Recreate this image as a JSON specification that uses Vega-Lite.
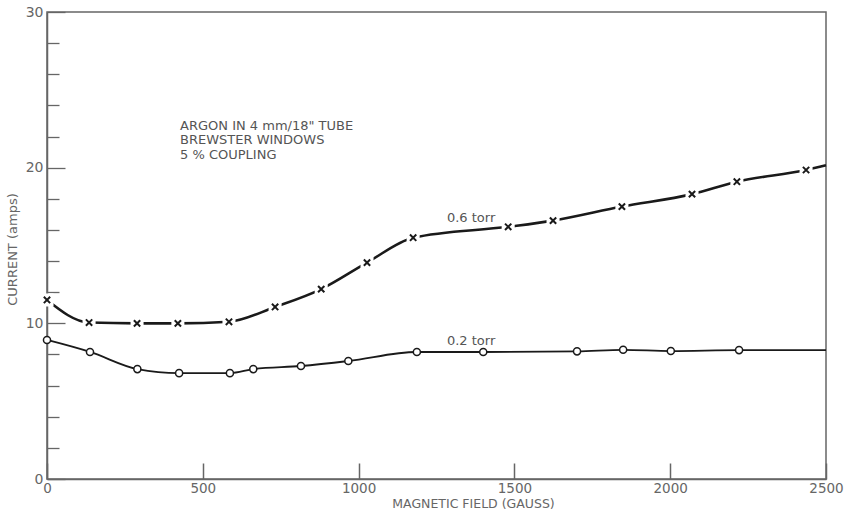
{
  "$schema": "https://vega.github.io/schema/vega-lite/v6.json",
  "width": 779,
  "height": 467,
  "autosize": {"type": "none"},
  "padding": {"left": 47, "top": 12, "right": 23, "bottom": 31},
  "background": "white",
  "config": {"view": {"stroke": "#666", "strokeWidth": 1.5}, "font": "DejaVu Sans"},
  "datasets": {
    "curves": [
      {"series": "0.6 torr", "gauss": 0, "amps": 11.5, "marked": true},
      {"series": "0.6 torr", "gauss": 135, "amps": 10.05, "marked": true},
      {"series": "0.6 torr", "gauss": 289, "amps": 10.0, "marked": true},
      {"series": "0.6 torr", "gauss": 420, "amps": 10.0, "marked": true},
      {"series": "0.6 torr", "gauss": 584, "amps": 10.1, "marked": true},
      {"series": "0.6 torr", "gauss": 732, "amps": 11.05, "marked": true},
      {"series": "0.6 torr", "gauss": 880, "amps": 12.2, "marked": true},
      {"series": "0.6 torr", "gauss": 1027, "amps": 13.9, "marked": true},
      {"series": "0.6 torr", "gauss": 1175, "amps": 15.5, "marked": true},
      {"series": "0.6 torr", "gauss": 1480, "amps": 16.2, "marked": true},
      {"series": "0.6 torr", "gauss": 1624, "amps": 16.6, "marked": true},
      {"series": "0.6 torr", "gauss": 1845, "amps": 17.5, "marked": true},
      {"series": "0.6 torr", "gauss": 2070, "amps": 18.3, "marked": true},
      {"series": "0.6 torr", "gauss": 2214, "amps": 19.1, "marked": true},
      {"series": "0.6 torr", "gauss": 2436, "amps": 19.85, "marked": true},
      {"series": "0.6 torr", "gauss": 2500, "amps": 20.15, "marked": false},
      {"series": "0.2 torr", "gauss": 0, "amps": 8.93, "marked": true},
      {"series": "0.2 torr", "gauss": 138, "amps": 8.16, "marked": true},
      {"series": "0.2 torr", "gauss": 290, "amps": 7.06, "marked": true},
      {"series": "0.2 torr", "gauss": 424, "amps": 6.8, "marked": true},
      {"series": "0.2 torr", "gauss": 587, "amps": 6.8, "marked": true},
      {"series": "0.2 torr", "gauss": 662, "amps": 7.06, "marked": true},
      {"series": "0.2 torr", "gauss": 815, "amps": 7.26, "marked": true},
      {"series": "0.2 torr", "gauss": 967, "amps": 7.58, "marked": true},
      {"series": "0.2 torr", "gauss": 1187, "amps": 8.16, "marked": true},
      {"series": "0.2 torr", "gauss": 1400, "amps": 8.16, "marked": true},
      {"series": "0.2 torr", "gauss": 1701, "amps": 8.2, "marked": true},
      {"series": "0.2 torr", "gauss": 1849, "amps": 8.3, "marked": true},
      {"series": "0.2 torr", "gauss": 2002, "amps": 8.22, "marked": true},
      {"series": "0.2 torr", "gauss": 2221, "amps": 8.28, "marked": true},
      {"series": "0.2 torr", "gauss": 2500, "amps": 8.28, "marked": false}
    ],
    "labels": [
      {"text": "0.6 torr", "gauss": 1361, "amps": 16.75},
      {"text": "0.2 torr", "gauss": 1361, "amps": 8.85}
    ],
    "notes": [
      {"text": "ARGON IN 4 mm/18\" TUBE", "gauss": 427, "amps": 22.67},
      {"text": "BREWSTER WINDOWS", "gauss": 427, "amps": 21.77},
      {"text": "5 % COUPLING", "gauss": 427, "amps": 20.81}
    ]
  },
  "encoding": {
    "x": {
      "field": "gauss", "type": "quantitative",
      "scale": {"domain": [0, 2500], "nice": false, "zero": false},
      "axis": {
        "title": "MAGNETIC FIELD (GAUSS)",
        "values": [0, 500, 1000, 1500, 2000, 2500],
        "format": "d",
        "grid": false,
        "tickSize": -16,
        "labelPadding": 18,
        "labelFlush": false,
        "domainColor": "#666", "domainWidth": 1.5,
        "tickColor": "#666", "tickWidth": 1.5,
        "labelColor": "#666", "labelFontSize": 13.5, "labelFont": "DejaVu Sans",
        "titleFont": "DejaVu Sans", "titleFontSize": 12.5, "titleFontWeight": "normal", "titleColor": "#666",
        "titleX": 426, "titleY": 24.5, "titleAlign": "center", "titleBaseline": "middle"
      }
    },
    "y": {
      "field": "amps", "type": "quantitative",
      "scale": {"domain": [0, 30], "nice": false},
      "axis": {
        "title": "CURRENT (amps)",
        "values": [0, 2, 4, 6, 8, 10, 12, 14, 16, 18, 20, 22, 24, 26, 28, 30],
        "labelExpr": "datum.value % 10 === 0 ? datum.label : ''",
        "grid": false,
        "tickSize": {"condition": {"test": "datum.value % 10 === 0", "value": -18}, "value": -12},
        "labelPadding": 22,
        "labelFlush": false,
        "domainColor": "#666", "domainWidth": 1.5,
        "tickColor": "#666", "tickWidth": 1.3,
        "labelColor": "#666", "labelFontSize": 14, "labelFont": "DejaVu Sans",
        "titleFont": "DejaVu Sans", "titleFontSize": 13, "titleFontWeight": "normal", "titleColor": "#666",
        "titleX": -35, "titleY": 237, "titleAlign": "center", "titleBaseline": "middle", "titleAngle": 270
      }
    }
  },
  "layer": [
    {
      "data": {"name": "curves"},
      "transform": [{"filter": "datum.series === '0.6 torr'"}],
      "mark": {"type": "line", "interpolate": "monotone", "color": "#1a1a1a", "strokeWidth": 2.6}
    },
    {
      "data": {"name": "curves"},
      "transform": [{"filter": "datum.series === '0.2 torr'"}],
      "mark": {"type": "line", "interpolate": "monotone", "color": "#1a1a1a", "strokeWidth": 1.8}
    },
    {
      "data": {"name": "curves"},
      "transform": [{"filter": "datum.series === '0.6 torr' && datum.marked"}],
      "mark": {"type": "point", "shape": "square", "filled": true, "color": "white", "opacity": 1, "size": 170}
    },
    {
      "data": {"name": "curves"},
      "transform": [{"filter": "datum.series === '0.6 torr' && datum.marked"}],
      "mark": {"type": "point", "shape": "M-1,-1L1,1M-1,1L1,-1", "filled": false, "color": "#1a1a1a", "opacity": 1, "strokeWidth": 2, "size": 40}
    },
    {
      "data": {"name": "curves"},
      "transform": [{"filter": "datum.series === '0.2 torr' && datum.marked"}],
      "mark": {"type": "point", "shape": "circle", "filled": true, "fill": "white", "stroke": "#1a1a1a", "strokeWidth": 1.5, "opacity": 1, "size": 50}
    },
    {
      "data": {"name": "labels"},
      "mark": {"type": "text", "font": "DejaVu Sans", "fontSize": 13, "color": "#555", "align": "center", "baseline": "middle"},
      "encoding": {"text": {"field": "text"}}
    },
    {
      "data": {"name": "notes"},
      "mark": {"type": "text", "font": "DejaVu Sans", "fontSize": 13, "color": "#555", "align": "left", "baseline": "middle"},
      "encoding": {"text": {"field": "text"}}
    }
  ]
}
